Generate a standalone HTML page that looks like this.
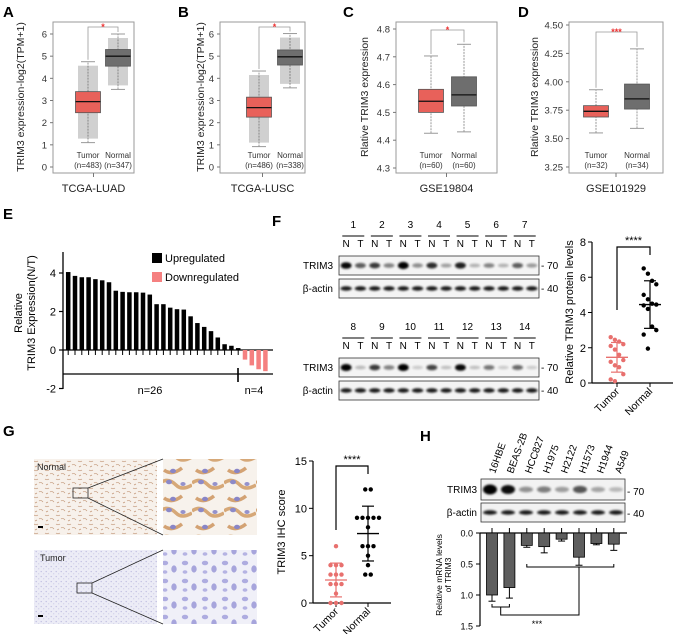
<!DOCTYPE html>
<html><head><meta charset="utf-8">
<style>
html,body{margin:0;padding:0;background:#fff;}
svg{display:block;font-family:"Liberation Sans",Arial,sans-serif;}
</style></head>
<body>
<svg id="fig" width="675" height="634" viewBox="0 0 675 634" xmlns="http://www.w3.org/2000/svg">
<defs>
<filter id="blur1" x="-50%" y="-50%" width="200%" height="200%"><feGaussianBlur stdDeviation="1.1"/></filter>
<pattern id="pNormOv" width="11" height="9" patternUnits="userSpaceOnUse">
<rect width="11" height="9" fill="#f7f1eb"/>
<path d="M1 2 q2 1.5 4 0 M6 6 q2 -1.5 4 1 M2 8 l2 -1" stroke="#c49a7c" stroke-width="0.7" fill="none"/>
</pattern>
<pattern id="pNormZm" width="32" height="28" patternUnits="userSpaceOnUse">
<rect width="32" height="28" fill="#f7f2ec"/>
<path d="M0 7 q8 -6 16 2 q6 6 16 0" stroke="#d6a878" stroke-width="3.5" fill="none"/>
<path d="M4 22 q8 6 18 -2" stroke="#d3a273" stroke-width="3.5" fill="none"/>
<ellipse cx="9" cy="6" rx="3" ry="2.3" fill="#8c89c8"/>
<ellipse cx="23" cy="8" rx="2.6" ry="2" fill="#9592cc"/>
<ellipse cx="13" cy="23" rx="3" ry="2.2" fill="#8985c6"/>
</pattern>
<pattern id="pTumOv" width="5" height="5" patternUnits="userSpaceOnUse">
<rect width="5" height="5" fill="#ececf6"/>
<circle cx="1.2" cy="1.6" r="0.7" fill="#c2c1e2"/>
<circle cx="3.7" cy="3.8" r="0.6" fill="#cbcae6"/>
</pattern>
<pattern id="pTumZm" width="20" height="18" patternUnits="userSpaceOnUse">
<rect width="20" height="18" fill="#f0f0f8"/>
<ellipse cx="5" cy="5" rx="3.2" ry="2.3" fill="#aeace0"/>
<ellipse cx="14" cy="11" rx="2.7" ry="3.6" fill="#a7a5dc"/>
<ellipse cx="5" cy="14" rx="2.4" ry="1.8" fill="#b5b3e3"/>
</pattern>
</defs>
<g id="root"></g>
</svg>
<script>
// ---------- data ----------
// box stats: [whiskerLow, q1, median, q3, whiskerHigh]
const luadTumor = [1.1, 2.45, 2.95, 3.4, 4.75];
const luadNormal = [3.5, 4.55, 5.0, 5.3, 6.0];
const luscTumor = [0.92, 2.25, 2.68, 3.15, 4.33];
const luscNormal = [3.57, 4.6, 4.97, 5.28, 6.02];
const gse19804Tumor = [4.425, 4.5, 4.54, 4.583, 4.703];
const gse19804Normal = [4.43, 4.523, 4.563, 4.628, 4.745];
const gse101929Tumor = [3.55, 3.69, 3.74, 3.79, 3.93];
const gse101929Normal = [3.59, 3.76, 3.85, 3.98, 4.29];
const boxCategories = ["Tumor", "Normal"];
const boxCountsA = ["(n=483)", "(n=347)"];
const boxCountsB = ["(n=486)", "(n=338)"];
const boxCountsC = ["(n=60)", "(n=60)"];
const boxCountsD = ["(n=32)", "(n=34)"];
const ticksAB = [0, 1, 2, 3, 4, 5, 6];
const ticksC = [4.3, 4.4, 4.5, 4.6, 4.7, 4.8];
const ticksD = [3.25, 3.5, 3.75, 4.0, 4.25, 4.5];
const ticksDLabels = ["3.25", "3.50", "3.75", "4.00", "4.25", "4.50"];
// panel E
const eValues = [4.05,3.85,3.78,3.78,3.68,3.62,3.52,3.08,3.02,3.0,3.0,2.98,2.88,2.38,2.38,2.2,2.12,2.1,1.75,1.4,1.2,0.98,0.65,0.3,0.22,0.1,-0.5,-0.8,-1.0,-1.1];
const eTicks = [-2, 0, 2, 4];
// panel F blots: band intensity N,T per sample
const fSamples1 = ["1","2","3","4","5","6","7"];
const fTrim1 = [0.85,0.5,0.65,0.35,1,0.3,0.7,0.22,0.75,0.15,0.35,0.15,0.5,0.25];
const fSamples2 = ["8","9","10","11","12","13","14"];
const fTrim2 = [0.95,0.12,0.65,0.35,0.95,0.05,0.6,0.1,0.85,0.1,0.4,0.05,0.45,0.05];
// panel F scatter
const fTumor = [2.6,2.45,2.35,2.2,2.1,1.9,1.6,1.3,1.2,1.0,0.9,0.5,0.2,0.1];
const fNormal = [6.5,6.2,5.8,5.6,5.0,4.75,4.5,4.45,4.4,4.2,3.2,3.0,2.75,1.95];
const fTicks = [0, 2, 4, 6, 8];
// panel G scatter
const gTumor = [6,4,4,4,3,3,3,2,2,2,1,0,0,0];
const gNormal = [12,12,9,9,9,9,9,8,6,6,6,5,4,3,3];
const gTicks = [0, 5, 10, 15];
// panel H
const hCells = ["16HBE","BEAS-2B","HCC827","H1975","H2122","H1573","H1944","A549"];
const hTrim = [1, 0.85, 0.3, 0.38, 0.25, 0.55, 0.22, 0.14];
const hMrna = [1.0, 0.88, 0.2, 0.22, 0.1, 0.39, 0.17, 0.18];
const hErr = [0.1, 0.17, 0.03, 0.1, 0.03, 0.13, 0.02, 0.1];
const hTicks = [0, 0.5, 1.0, 1.5];
const hTickLabels = ["0.0", "0.5", "1.0", "1.5"];

// ---------- helpers ----------
const NS = "http://www.w3.org/2000/svg";
const root = document.getElementById("root");
function mk(tag, attrs, parent) {
  const e = document.createElementNS(NS, tag);
  for (const k in attrs) e.setAttribute(k, attrs[k]);
  (parent || root).appendChild(e);
  return e;
}
function txt(x, y, s, size, anchor, parent, extra) {
  const e = mk("text", Object.assign({x: x, y: y, "font-size": size, "text-anchor": anchor || "middle", fill: "#222"}, extra || {}), parent);
  e.textContent = s;
  return e;
}
function lin(d0, d1, r0, r1) { return v => r0 + (v - d0) * (r1 - r0) / (d1 - d0); }
function group(name) {
  const g = mk("g", {});
  
  
  return g;
}
function letter(x, y, s) {
  const t = txt(x, y, s, 15, "start", root, {"font-weight": "bold", fill: "#000"});
  
  
}

// ---------- boxplot panels ----------
function boxPanel(cfg) {
  const g = group(cfg.name);
  const y = lin(cfg.d0, cfg.d1, cfg.r0, cfg.r1);
  const fr = mk("rect", {x: cfg.x0, y: 22, width: cfg.x1 - cfg.x0, height: 151, fill: "none", stroke: "#9a9a9a", "stroke-width": 1}, g);
  
  
  cfg.ticks.forEach((t, i) => {
    mk("line", {x1: cfg.x0 - 3, x2: cfg.x0, y1: y(t), y2: y(t), stroke: "#777"}, g);
    const tl = txt(cfg.x0 - 6, y(t) + 3.5, cfg.tickLabels ? cfg.tickLabels[i] : String(t), 9.5, "end", g, {fill: "#333"});
    
    
  });
  const mid = (cfg.x0 + cfg.x1) / 2;
  mk("line", {x1: mid, x2: mid, y1: 173, y2: 177, stroke: "#777"}, g);
  const yt = txt(0, 0, cfg.ytitle, 10.5, "middle", g, {transform: "translate(" + cfg.tx + ",97) rotate(-90)"});
  
  
  const xt = txt(mid, 192, cfg.xtitle, 11, "middle", g);
  
  
  const sets = [cfg.tumor, cfg.normal];
  const colors = ["#e8615a", "#6e6e6e"];
  sets.forEach((s, i) => {
    const cx = cfg.cx[i], w = 25;
    const wl = mk("line", {x1: cx, x2: cx, y1: y(s[0]), y2: y(s[4]), stroke: "#999", "stroke-dasharray": "2,1"}, g);
    
    
    [s[0], s[4]].forEach(v => mk("line", {x1: cx - 7, x2: cx + 7, y1: y(v), y2: y(v), stroke: "#999"}, g));
    if (cfg.dense) {
      const cl = mk("rect", {x: cx - 10, y: y(s[4]) + 4, width: 20, height: y(s[0]) - y(s[4]) - 8, fill: "#444", opacity: 0.25}, g);
      
      
    }
    const b = mk("rect", {x: cx - w / 2, y: y(s[3]), width: w, height: y(s[1]) - y(s[3]), fill: colors[i], stroke: "#555", "stroke-width": 0.8}, g);
    
    
    mk("line", {x1: cx - w / 2, x2: cx + w / 2, y1: y(s[2]), y2: y(s[2]), stroke: "#111", "stroke-width": 1.3}, g);
    const c1 = txt(cx, 158, boxCategories[i], 8, "middle", g, {fill: "#333"});
    
    
    const c2 = txt(cx, 168, cfg.counts[i], 8, "middle", g, {fill: "#333"});
    
    
  });
  const by = cfg.by;
  mk("path", {d: "M" + cfg.cx[0] + " " + (y(cfg.tumor[4]) - 2) + " V" + by + " H" + cfg.cx[1] + " V" + (y(cfg.normal[4]) - 2), fill: "none", stroke: "#999", "stroke-width": 0.8}, g);
  const sg = txt((cfg.cx[0] + cfg.cx[1]) / 2, by + 3, cfg.sig, 9, "middle", g, {fill: "#e33", "font-weight": "bold"});
  
  
}
boxPanel({name: "panel-a-luad-boxplot", x0: 53, x1: 134, d0: 0, d1: 6, r0: 167, r1: 34, ticks: ticksAB, tumor: luadTumor, normal: luadNormal, cx: [88, 118], counts: boxCountsA, ytitle: "TRIM3 expression-log2(TPM+1)", tx: 24, xtitle: "TCGA-LUAD", sig: "*", by: 27, dense: true});
boxPanel({name: "panel-b-lusc-boxplot", x0: 220, x1: 305, d0: 0, d1: 6, r0: 167, r1: 34, ticks: ticksAB, tumor: luscTumor, normal: luscNormal, cx: [259, 290], counts: boxCountsB, ytitle: "TRIM3 expression-log2(TPM+1)", tx: 204, xtitle: "TCGA-LUSC", sig: "*", by: 27, dense: true});
boxPanel({name: "panel-c-gse19804-boxplot", x0: 396, x1: 497, d0: 4.3, d1: 4.8, r0: 168, r1: 29, ticks: ticksC, tumor: gse19804Tumor, normal: gse19804Normal, cx: [431, 464], counts: boxCountsC, ytitle: "Rlative TRIM3 expression", tx: 368, xtitle: "GSE19804", sig: "*", by: 30});
boxPanel({name: "panel-d-gse101929-boxplot", x0: 569, x1: 663, d0: 3.25, d1: 4.5, r0: 167, r1: 25, ticks: ticksD, tickLabels: ticksDLabels, tumor: gse101929Tumor, normal: gse101929Normal, cx: [596, 637], counts: boxCountsD, ytitle: "Rlative TRIM3 expression", tx: 538, xtitle: "GSE101929", sig: "***", by: 32});
letter(3, 17, "A"); letter(178, 17, "B"); letter(343, 17, "C"); letter(518, 17, "D");

// ---------- panel E ----------
(function () {
  const g = group("panel-e-waterfall-chart");
  const y = lin(0, 4, 350, 273);
  const x0 = 68.2, pitch = 6.8, bw = 4.5;
  mk("line", {x1: 63, x2: 63, y1: 252, y2: 389, stroke: "#000", "stroke-width": 1.3}, g);
  eTicks.forEach(t => {
    mk("line", {x1: 59, x2: 63, y1: y(t), y2: y(t), stroke: "#000", "stroke-width": 1.2}, g);
    const tl = txt(56, y(t) + 4, String(t), 11, "end", g, {fill: "#000"});
    
    
  });
  mk("line", {x1: 63, x2: 273, y1: y(0), y2: y(0), stroke: "#000", "stroke-width": 1.3}, g);
  eValues.forEach((v, i) => {
    const cx = x0 + i * pitch;
    const r = mk("rect", {x: cx - bw / 2, y: Math.min(y(v), y(0)), width: bw, height: Math.abs(y(v) - y(0)), fill: v >= 0 ? "#000" : "#f58080"}, g);
    
    
    if (v >= 0) mk("line", {x1: cx, x2: cx, y1: y(0), y2: y(0) + 5, stroke: "#000", "stroke-width": 1}, g);
  });
  mk("line", {x1: 63, x2: 273, y1: 374, y2: 374, stroke: "#000", "stroke-width": 1.2}, g);
  mk("line", {x1: 238, x2: 238, y1: 368, y2: 382, stroke: "#000", "stroke-width": 1.6}, g);
  const n1 = txt(150, 394, "n=26", 11, "middle", g, {fill: "#000"});
  
  
  const n2 = txt(254, 394, "n=4", 11, "middle", g, {fill: "#000"});
  
  
  const t1 = txt(0, 0, "Relative", 11, "middle", g, {fill: "#000", transform: "translate(22,313) rotate(-90)"});
  
  
  const t2 = txt(0, 0, "TRIM3 Expression(N/T)", 11, "middle", g, {fill: "#000", transform: "translate(35,313) rotate(-90)"});
  
  
  const l1 = mk("rect", {x: 152, y: 253, width: 10, height: 10, fill: "#000"}, g);
  
  
  const lt1 = txt(165, 262, "Upregulated", 11, "start", g, {fill: "#000"});
  
  
  const l2 = mk("rect", {x: 152, y: 272, width: 10, height: 10, fill: "#f58080"}, g);
  
  
  const lt2 = txt(165, 281, "Downregulated", 11, "start", g, {fill: "#000"});
  
  
})();
letter(3, 219, "E");

// ---------- panel F blots ----------
function blotRow(g, samples, trim, top) {
  const lx0 = 339, lx1 = 539, lanes = samples.length * 2, lw = (lx1 - lx0) / lanes;
  samples.forEach((s, i) => {
    const cx = lx0 + lw * (2 * i + 1);
    const st = txt(cx, top, s, 10, "middle", g, {fill: "#000"});
    
    
    mk("line", {x1: cx - 11, x2: cx + 11, y1: top + 8, y2: top + 8, stroke: "#000", "stroke-width": 1}, g);
    txt(cx - lw / 2, top + 19, "N", 10, "middle", g, {fill: "#000"});
    txt(cx + lw / 2, top + 19, "T", 10, "middle", g, {fill: "#000"});
  });
  const bt = top + 28, ba = top + 51;
  const b1 = mk("rect", {x: lx0, y: bt, width: lx1 - lx0, height: 19, fill: "#f4f4f4", stroke: "#333", "stroke-width": 0.8}, g);
  
  
  const b2 = mk("rect", {x: lx0, y: ba, width: lx1 - lx0, height: 19, fill: "#f4f4f4", stroke: "#333", "stroke-width": 0.8}, g);
  
  
  trim.forEach((v, i) => {
    const cx = lx0 + lw * (i + 0.5);
    const e = mk("ellipse", {cx: cx, cy: bt + 9.5, rx: 5.5, ry: 1.6 + 2 * v, fill: "#000", opacity: Math.min(1, 0.12 + v), filter: "url(#blur1)"}, g);
    
    
    const a = mk("ellipse", {cx: cx, cy: ba + 9.5, rx: 5.8, ry: 2.2, fill: "#000", opacity: 0.9, filter: "url(#blur1)"}, g);
    
    
  });
  txt(333, bt + 13, "TRIM3", 10, "end", g, {fill: "#000"});
  txt(333, ba + 13, "β-actin", 10, "end", g, {fill: "#000"});
  txt(541, bt + 13, "- 70", 10, "start", g, {fill: "#000"});
  txt(541, ba + 13, "- 40", 10, "start", g, {fill: "#000"});
}
(function () {
  const g = group("panel-f-western-blot");
  blotRow(g, fSamples1, fTrim1, 228);
  blotRow(g, fSamples2, fTrim2, 330);
})();
letter(272, 226, "F");

// ---------- scatter with mean±sd ----------
function mean(a) { return a.reduce((s, v) => s + v, 0) / a.length; }
function sd(a) { const m = mean(a); return Math.sqrt(a.reduce((s, v) => s + (v - m) * (v - m), 0) / (a.length - 1)); }
function scatterPanel(cfg) {
  const g = group(cfg.name);
  const y = lin(0, cfg.max, cfg.r0, cfg.r1);
  mk("line", {x1: cfg.ax, x2: cfg.ax, y1: cfg.r1, y2: cfg.r0, stroke: "#000", "stroke-width": 1.2}, g);
  mk("line", {x1: cfg.ax, x2: cfg.axEnd, y1: cfg.r0, y2: cfg.r0, stroke: "#000", "stroke-width": 1.2}, g);
  cfg.ticks.forEach(t => {
    mk("line", {x1: cfg.ax - 4, x2: cfg.ax, y1: y(t), y2: y(t), stroke: "#000"}, g);
    const tl = txt(cfg.ax - 6, y(t) + 4, String(t), 11, "end", g, {fill: "#000"});
    
    
  });
  const yt = txt(0, 0, cfg.ytitle, 11, "middle", g, {fill: "#000", transform: "translate(" + cfg.tx + "," + cfg.ty + ") rotate(-90)"});
  
  
  const sets = [cfg.tumor, cfg.normal], cols = ["#e8706e", "#000"], names = ["Tumor", "Normal"];
  sets.forEach((s, i) => {
    const cx = cfg.cx[i];
    mk("line", {x1: cx, x2: cx, y1: cfg.r0, y2: cfg.r0 + 4, stroke: "#000"}, g);
    const cl = txt(0, 0, names[i], 10.5, "end", g, {fill: "#000", transform: "translate(" + (cx + 3) + "," + (cfg.r0 + 9) + ") rotate(-45)"});
    
    
    const counts = {}, seen = {};
    s.forEach(v => counts[v] = (counts[v] || 0) + 1);
    s.forEach((v, k) => {
      let dx;
      if (cfg.grid) { seen[v] = (seen[v] || 0); dx = (seen[v] - (counts[v] - 1) / 2) * 5.5; seen[v]++; }
      else { dx = ((k % 4) - 1.5) * 4.2; }
      const p = mk("circle", {cx: cx + dx, cy: y(v), r: 2.2, fill: cols[i]}, g);
      
      
    });
    const m = mean(s), d = sd(s);
    const ml = mk("line", {x1: cx - 11, x2: cx + 11, y1: y(m), y2: y(m), stroke: cols[i], "stroke-width": 1.3}, g);
    
    
    mk("line", {x1: cx, x2: cx, y1: y(m + d), y2: y(Math.max(0, m - d)), stroke: cols[i], "stroke-width": 1.2}, g);
    [m + d, Math.max(0, m - d)].forEach(v => mk("line", {x1: cx - 6, x2: cx + 6, y1: y(v), y2: y(v), stroke: cols[i], "stroke-width": 1.2}, g));
  });
  mk("path", {d: "M" + cfg.cx[0] + " " + cfg.legL + " V" + cfg.by + " H" + cfg.cx[1] + " V" + cfg.legR, fill: "none", stroke: "#000", "stroke-width": 1.2}, g);
  const sg = txt((cfg.cx[0] + cfg.cx[1]) / 2, cfg.by - 3, "****", 11, "middle", g, {fill: "#000"});
  
  
}
scatterPanel({name: "panel-f-protein-scatter", max: 8, r0: 383, r1: 242, ax: 592, axEnd: 673, ticks: fTicks, tumor: fTumor, normal: fNormal, cx: [617, 650], ytitle: "Relative TRIM3 protein levels", tx: 573, ty: 312, by: 247, legL: 310, legR: 255});
scatterPanel({name: "panel-g-ihc-score-scatter", max: 15, r0: 603, r1: 461, ax: 313, axEnd: 391, ticks: gTicks, tumor: gTumor, normal: gNormal, cx: [336, 368], ytitle: "TRIM3 IHC score", tx: 285, ty: 532, by: 466, legL: 530, legR: 474, grid: true});

// ---------- panel G images ----------
(function () {
  const g = group("panel-g-ihc-images");
  const imgs = [
    [34, 459, 123, 76, "url(#pNormOv)", "ihc-normal-overview"],
    [163, 459, 94, 76, "url(#pNormZm)", "ihc-normal-zoom"],
    [34, 550, 123, 74, "url(#pTumOv)", "ihc-tumor-overview"],
    [163, 550, 94, 74, "url(#pTumZm)", "ihc-tumor-zoom"]
  ];
  imgs.forEach(a => {
    const r = mk("rect", {x: a[0], y: a[1], width: a[2], height: a[3], fill: a[4]}, g);
    
    
  });
  mk("rect", {x: 73, y: 488, width: 15, height: 10, fill: "none", stroke: "#222", "stroke-width": 0.8}, g);
  mk("line", {x1: 88, y1: 488, x2: 163, y2: 459, stroke: "#222", "stroke-width": 0.8}, g);
  mk("line", {x1: 88, y1: 498, x2: 163, y2: 535, stroke: "#222", "stroke-width": 0.8}, g);
  mk("rect", {x: 77, y: 583, width: 15, height: 10, fill: "none", stroke: "#222", "stroke-width": 0.8}, g);
  mk("line", {x1: 92, y1: 583, x2: 163, y2: 550, stroke: "#222", "stroke-width": 0.8}, g);
  mk("line", {x1: 92, y1: 593, x2: 163, y2: 624, stroke: "#222", "stroke-width": 0.8}, g);
  mk("rect", {x: 38, y: 526, width: 5, height: 2, fill: "#000"}, g);
  mk("rect", {x: 38, y: 615, width: 5, height: 2, fill: "#000"}, g);
  const t1 = txt(37, 470, "Normal", 9, "start", g, {fill: "#222"});
  
  
  const t2 = txt(40, 561, "Tumor", 9, "start", g, {fill: "#222"});
  
  
})();
letter(3, 436, "G");

// ---------- panel H ----------
(function () {
  const g = group("panel-h-cell-lines");
  const x0 = 481, x1 = 625, n = hCells.length, lw = (x1 - x0) / n;
  hCells.forEach((c, i) => {
    const cx = x0 + lw * (i + 0.5) + 2;
    const t = txt(0, 0, c, 10, "start", g, {fill: "#000", transform: "translate(" + (cx + 3) + ",474) rotate(-70)"});
    
    
  });
  const bt = 479, ba = 503;
  const b1 = mk("rect", {x: x0, y: bt, width: x1 - x0, height: 21, fill: "#f2f2f2", stroke: "#333", "stroke-width": 0.8}, g);
  
  
  const b2 = mk("rect", {x: x0, y: ba, width: x1 - x0, height: 19, fill: "#f2f2f2", stroke: "#333", "stroke-width": 0.8}, g);
  
  
  const y = lin(0, 1.5, 533, 626);
  hCells.forEach((c, i) => {
    const cx = x0 + lw * (i + 0.5);
    const e = mk("ellipse", {cx: cx, cy: bt + 10.5, rx: 7, ry: 2 + 3 * hTrim[i], fill: "#000", opacity: Math.min(1, 0.1 + hTrim[i]), filter: "url(#blur1)"}, g);
    
    
    const a = mk("ellipse", {cx: cx, cy: ba + 9.5, rx: 7, ry: 2.2, fill: "#000", opacity: 0.9, filter: "url(#blur1)"}, g);
    
    
  });
  txt(477, bt + 14, "TRIM3", 10, "end", g, {fill: "#000"});
  txt(477, ba + 13, "β-actin", 10, "end", g, {fill: "#000"});
  txt(627, bt + 16, "- 70", 10, "start", g, {fill: "#000"});
  txt(627, ba + 14, "- 40", 10, "start", g, {fill: "#000"});
  mk("line", {x1: 480, x2: 480, y1: 533, y2: 626, stroke: "#000", "stroke-width": 1.2}, g);
  mk("line", {x1: 480, x2: 627, y1: 533, y2: 533, stroke: "#000", "stroke-width": 1.2}, g);
  hTicks.forEach((t, i) => {
    mk("line", {x1: 476, x2: 480, y1: y(t), y2: y(t), stroke: "#000"}, g);
    const tl = txt(473, y(t) + 3.5, hTickLabels[i], 9, "end", g, {fill: "#000"});
    
    
  });
  const bx = [];
  hMrna.forEach((v, i) => {
    const cx = 492 + i * 17.4;
    bx.push(cx);
    mk("line", {x1: cx, x2: cx, y1: 528, y2: 533, stroke: "#000"}, g);
    const r = mk("rect", {x: cx - 5.5, y: y(0), width: 11, height: y(v) - y(0), fill: "#5e5e5e", stroke: "#000", "stroke-width": 0.8}, g);
    
    
    mk("line", {x1: cx, x2: cx, y1: y(v), y2: y(v + hErr[i]), stroke: "#000", "stroke-width": 1}, g);
    mk("line", {x1: cx - 3.5, x2: cx + 3.5, y1: y(v + hErr[i]), y2: y(v + hErr[i]), stroke: "#000", "stroke-width": 1}, g);
  });
  mk("path", {d: "M" + bx[2] + " 564 V567 H" + bx[7] + " V564", fill: "none", stroke: "#000", "stroke-width": 1}, g);
  mk("path", {d: "M" + bx[0] + " 604 V607 H" + bx[1] + " V604", fill: "none", stroke: "#000", "stroke-width": 1}, g);
  const m1 = (bx[0] + bx[1]) / 2;
  mk("path", {d: "M" + m1 + " 607 V615 H" + bx[5] + " V567", fill: "none", stroke: "#000", "stroke-width": 1}, g);
  const sg = txt(537, 627, "***", 9, "middle", g, {fill: "#000"});
  
  
  const t1 = txt(0, 0, "Relative mRNA levels", 8.5, "middle", g, {fill: "#000", transform: "translate(442,575) rotate(-90)"});
  
  
  const t2 = txt(0, 0, "of TRIM3", 8.5, "middle", g, {fill: "#000", transform: "translate(451,575) rotate(-90)"});
  
  
})();
letter(420, 441, "H");
</script>
</body></html>
